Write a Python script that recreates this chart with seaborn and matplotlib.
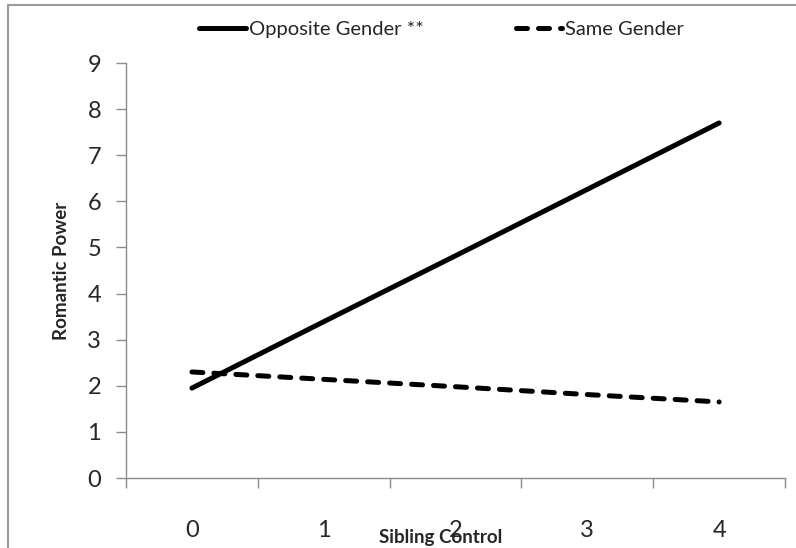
import pandas as pd
import numpy as np
import matplotlib
matplotlib.use("Agg")
import matplotlib.pyplot as plt
import seaborn as sns
from matplotlib.lines import Line2D
from matplotlib.ticker import FixedLocator

# =========================================================
# DATA
# =========================================================
sibling_control = [0, 1, 2, 3, 4]
opposite_gender = [1.95, 3.39, 4.82, 6.26, 7.70]
same_gender = [2.30, 2.14, 1.98, 1.81, 1.65]
series_names = ["Opposite Gender **", "Same Gender"]
y_ticks = list(range(0, 10))

df = pd.DataFrame({
    "Sibling Control": sibling_control * 2,
    "Romantic Power": opposite_gender + same_gender,
    "Group": [series_names[0]] * 5 + [series_names[1]] * 5,
})

# =========================================================
# PLOT
# =========================================================
sns.set_theme(style="white")
plt.rcParams["font.family"] = ["Lato", "DejaVu Sans"]

DASH = (2.2, 2.2)

fig = plt.figure(figsize=(7.96, 5.48), dpi=100)
ax = fig.add_axes([0.1583, 0.1277, 0.8279, 0.7573])

sns.lineplot(data=df, x="Sibling Control", y="Romantic Power", hue="Group",
             style="Group", palette=["black", "black"],
             dashes={series_names[0]: "", series_names[1]: DASH},
             linewidth=3.6, legend=False, ax=ax)
for ln in ax.lines:
    ln.set_solid_capstyle("round")
    ln.set_dash_capstyle("round")

ax.set_xlim(-0.5, 4.5)
ax.set_ylim(0, 9)
ax.set_yticks(y_ticks)
ax.set_xticks(sibling_control)
ax.set_xticklabels([str(v) for v in sibling_control])
ax.xaxis.set_minor_locator(FixedLocator(np.arange(-0.5, 5.0, 1.0)))

for side in ["top", "right"]:
    ax.spines[side].set_visible(False)
for side in ["left", "bottom"]:
    ax.spines[side].set_color("#8c8c8c")
    ax.spines[side].set_linewidth(1.0)

ax.tick_params(axis="y", which="major", length=7, width=1.0, color="#8c8c8c",
               labelsize=17, pad=11, left=True)
ax.tick_params(axis="x", which="major", length=0, labelsize=17, pad=30)
ax.tick_params(axis="x", which="minor", length=7, width=1.0, color="#8c8c8c",
               bottom=True)

ax.set_xlabel("Sibling Control", fontsize=13.5, fontweight="bold")
ax.set_ylabel("Romantic Power", fontsize=13.5, fontweight="bold", labelpad=12)
ax.xaxis.set_label_coords(0.477, -0.122)

handles = [
    Line2D([0], [0], color="black", lw=3.6, solid_capstyle="round"),
    Line2D([0], [0], color="black", lw=3.6, linestyle=(0, DASH),
           dash_capstyle="round"),
]
fig.legend(handles, series_names, loc="center", bbox_to_anchor=(0.555, 0.947),
           ncol=2, frameon=False, fontsize=14.5, handlelength=2.3,
           handletextpad=0.15, columnspacing=4.6)

# figure border (top and left visible)
fig.add_artist(Line2D([8 / 796, 1.0], [1 - 5 / 548, 1 - 5 / 548],
                      transform=fig.transFigure, color="#9a9a9a", lw=1.5))
fig.add_artist(Line2D([8 / 796, 8 / 796], [0.0, 1 - 5 / 548],
                      transform=fig.transFigure, color="#9a9a9a", lw=1.5))

fig.savefig("out.png", dpi=100, facecolor="white")
